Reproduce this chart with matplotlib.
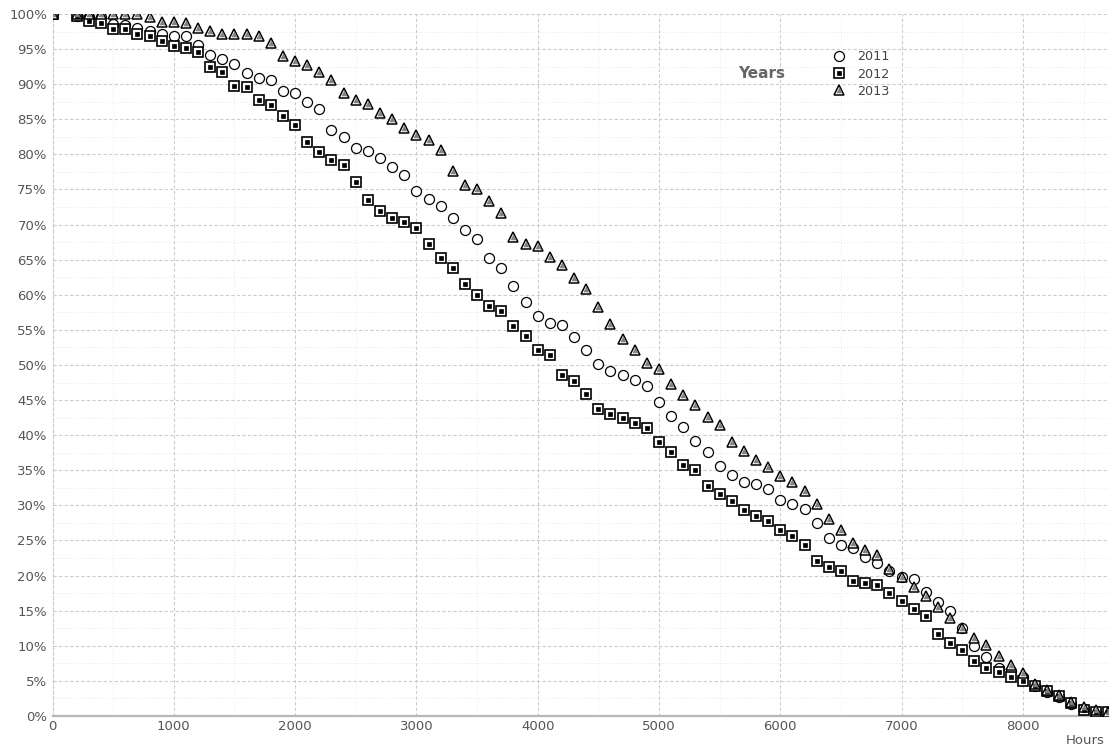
import matplotlib.pyplot as plt
from matplotlib.ticker import MultipleLocator, FuncFormatter

# Hours sampled every 100 h (the 100 h sample is missing in the source)
hours = [0] + list(range(200, 8800, 100))

share_2011 = [
    100, 99.7, 99.6, 99.5, 98.6, 98.4, 98.0, 97.6, 97.1, 96.8,
    96.8, 95.6, 94.2, 93.6, 92.9, 91.6, 90.9, 90.6, 89.0, 88.7,
    87.4, 86.4, 83.5, 82.5, 80.9, 80.5, 79.5, 78.2, 77.0, 74.8,
    73.7, 72.7, 70.9, 69.2, 68.0, 65.3, 63.8, 61.2, 59.0, 57.0,
    56.0, 55.7, 54.0, 52.1, 50.1, 49.2, 48.6, 47.9, 47.0, 44.7,
    42.8, 41.1, 39.2, 37.6, 35.6, 34.3, 33.4, 33.0, 32.4, 30.8,
    30.2, 29.5, 27.5, 25.3, 24.3, 23.9, 22.7, 21.8, 20.7, 19.8,
    19.5, 17.6, 16.2, 15.0, 12.5, 10.0, 8.4, 6.9, 6.4, 5.6,
    4.3, 3.4, 2.7, 1.7, 1.0, 0.6, 0.4,
]
share_2012 = [
    100, 99.7, 99.0, 98.7, 97.8, 97.8, 97.1, 96.9, 96.2, 95.5,
    95.2, 94.6, 92.4, 91.8, 89.8, 89.6, 87.8, 87.0, 85.5, 84.2,
    81.7, 80.4, 79.2, 78.5, 76.0, 73.5, 71.9, 71.0, 70.3, 69.5,
    67.2, 65.3, 63.8, 61.5, 59.9, 58.4, 57.7, 55.6, 54.2, 52.1,
    51.4, 48.6, 47.7, 45.8, 43.8, 43.0, 42.5, 41.7, 41.0, 39.1,
    37.6, 35.7, 35.0, 32.8, 31.6, 30.6, 29.4, 28.5, 27.8, 26.5,
    25.7, 24.4, 22.1, 21.2, 20.6, 19.3, 19.0, 18.7, 17.5, 16.4,
    15.2, 14.2, 11.7, 10.4, 9.4, 7.9, 6.9, 6.3, 5.6, 5.0,
    4.3, 3.5, 2.8, 1.8, 0.85, 0.5, 0.5,
]
share_2013 = [
    100, 100, 100, 100, 100, 100, 100, 99.5, 98.9, 98.9,
    98.7, 98.0, 97.6, 97.1, 97.1, 97.1, 96.8, 95.8, 94.0, 93.3,
    92.7, 91.7, 90.6, 88.7, 87.8, 87.2, 85.9, 85.0, 83.7, 82.8,
    82.1, 80.6, 77.6, 75.6, 75.1, 73.3, 71.7, 68.2, 67.3, 67.0,
    65.4, 64.2, 62.4, 60.8, 58.3, 55.8, 53.7, 52.2, 50.3, 49.4,
    47.3, 45.7, 44.3, 42.6, 41.4, 39.0, 37.7, 36.5, 35.4, 34.2,
    33.4, 32.1, 30.2, 28.1, 26.5, 24.7, 23.7, 22.9, 20.9, 19.8,
    18.4, 17.1, 15.5, 13.9, 12.5, 11.1, 10.1, 8.6, 7.2, 6.1,
    4.5, 3.7, 3.0, 2.0, 1.3, 0.85, 0.6,
]

GRAY = "#555555"

fig = plt.figure(figsize=(11.1, 7.51), dpi=100)
ax = fig.add_axes([0.0473, 0.0466, 0.9507, 0.9348])

# 2011: open circles
h11, = ax.plot(hours, share_2011, ls="none", marker="o", ms=7.2,
               mfc="white", mec="black", mew=0.9, zorder=3)

# 2012: square outline with dark core
s_out, = ax.plot(hours, share_2012, ls="none", marker="s", ms=7.0,
                 mfc="white", mec="black", mew=1.2, zorder=3)
s_in, = ax.plot(hours, share_2012, ls="none", marker="s", ms=3.2,
                mfc="black", mec="black", mew=0.5, zorder=4)

# 2013: triangle with gray core
t_out, = ax.plot(hours, share_2013, ls="none", marker="^", ms=7.6,
                 mfc="white", mec="black", mew=1.1, zorder=3)
t_in, = ax.plot(hours, share_2013, ls="none", marker="^", ms=3.5,
                mfc="#808080", mec="#808080", mew=0.5, zorder=4)

ax.set_xlim(0, 8700)
ax.set_ylim(0, 100)

ax.xaxis.set_major_locator(MultipleLocator(1000))
ax.xaxis.set_minor_locator(MultipleLocator(500))
ax.yaxis.set_major_locator(MultipleLocator(5))
ax.yaxis.set_minor_locator(MultipleLocator(2.5))
ax.yaxis.set_major_formatter(FuncFormatter(lambda v, p: f"{v:.0f}%"))

ax.grid(which="major", color="#cccccc", linestyle=(0, (3, 2)), linewidth=0.8)
ax.grid(which="minor", color="#e8e8e8", linestyle=(0, (1, 2)), linewidth=0.7)
ax.set_axisbelow(True)

ax.tick_params(which="both", length=0, labelsize=9.5, colors=GRAY, pad=3)
ax.tick_params(axis="y", pad=4)

for side in ("top", "right"):
    ax.spines[side].set_visible(False)
ax.spines["left"].set_color("#cccccc")
ax.spines["left"].set_linestyle((0, (3, 2)))
ax.spines["left"].set_linewidth(0.8)
ax.spines["bottom"].set_color("#b8b8b8")
ax.spines["bottom"].set_linewidth(1.6)

fig.text(0.995, 0.005, "Hours", ha="right", va="bottom", fontsize=9.5, color=GRAY)

leg = ax.legend(
    [h11, (s_out, s_in), (t_out, t_in)], ["2011", "2012", "2013"],
    loc="upper left", bbox_to_anchor=(0.7295, 0.961), frameon=False,
    fontsize=9.2, labelspacing=0.33, handlelength=1.2, handletextpad=0.8,
    borderpad=0.2,
)
for t in leg.get_texts():
    t.set_color("#444444")

fig.text(0.665, 0.902, "Years", ha="left", va="center", fontsize=11,
         fontweight="bold", color="#666666")

plt.savefig("out.png", dpi=100)
plt.close()
